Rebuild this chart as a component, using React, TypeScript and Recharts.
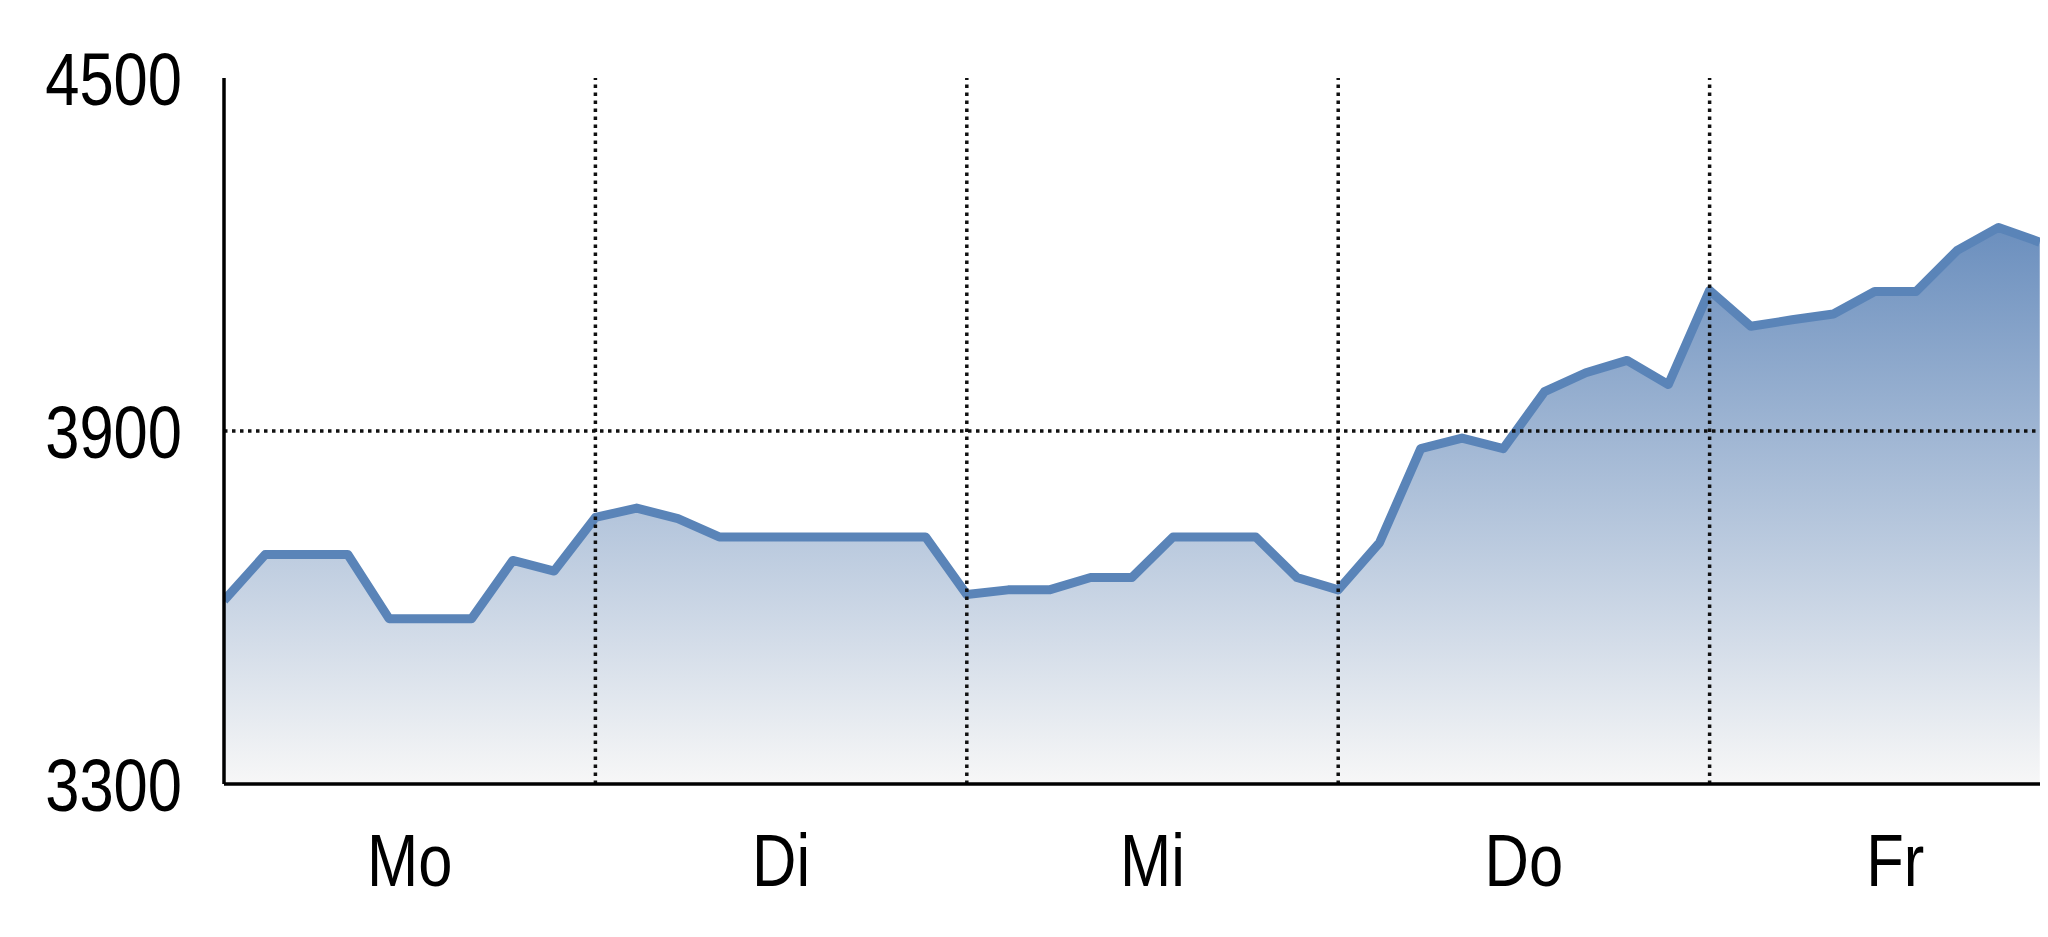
import React from 'react';
import { AreaChart, Area, XAxis, YAxis, ReferenceLine } from 'recharts';

// Values per step (9 steps per day)
const values: number[] = [
  3612, 3690, 3690, 3690, 3581, 3581, 3581, 3680, 3662,
  3753, 3769, 3751, 3720, 3720, 3720, 3720, 3720, 3720,
  3622, 3630, 3630, 3651, 3651, 3720, 3720, 3720, 3651,
  3630, 3710, 3870, 3888, 3870, 3967, 3999, 4020, 3979,
  4139, 4078, 4089, 4099, 4137, 4137, 4207, 4246, 4221,
];

const dayLabels: string[] = ['Mo', 'Di', 'Mi', 'Do', 'Fr'];
const dayLabelTicks: number[] = [4.5, 13.5, 22.5, 31.5, 40.5];
const dayBoundaries: number[] = [9, 18, 27, 36];
const yTicks: number[] = [3300, 3900, 4500];
const yGridValues: number[] = [3900];
const xDomainEnd = 44.2;

const data = values.map((v, i) => ({ t: i, v }));

const FONT = "'Liberation Sans', Arial, Helvetica, sans-serif";
const FONT_SIZE = 75;
const NARROW = 0.82;

function XTick(props: any) {
  const { x, y, payload } = props;
  const idx = dayLabelTicks.indexOf(payload.value);
  return (
    <g transform={`translate(${x},${y}) scale(${NARROW},1)`}>
      <text x={0} y={0} dy="0.71em" textAnchor="middle" fill="#000" fontSize={FONT_SIZE} fontFamily={FONT}>
        {dayLabels[idx] ?? ''}
      </text>
    </g>
  );
}

function YTick(props: any) {
  const { x, y, payload } = props;
  return (
    <g transform={`translate(${x},${y}) scale(${NARROW},1)`}>
      <text x={0} y={0} dy="0.355em" textAnchor="end" fill="#000" fontSize={FONT_SIZE} fontFamily={FONT}>
        {String(payload.value)}
      </text>
    </g>
  );
}

export default function App() {
  return (
    <div style={{ width: 2040 }}>
      <AreaChart
        width={2040}
        height={900}
        data={data}
        margin={{ top: 70, right: 0, bottom: 0, left: 0 }}
      >
        <defs>
          <linearGradient id="fillGrad" x1="0" y1="0" x2="0" y2="1">
            <stop offset="0%" stopColor="#6b8fbe" />
            <stop offset="100%" stopColor="#f7f7f7" />
          </linearGradient>
        </defs>
        <XAxis
          dataKey="t"
          type="number"
          domain={[0, xDomainEnd]}
          ticks={dayLabelTicks}
          tickLine={false}
          tickSize={0}
          tickMargin={49}
          height={124}
          axisLine={{ stroke: '#000', strokeWidth: 3.5 }}
          tick={<XTick />}
          interval={0}
          allowDataOverflow
        />
        <YAxis
          type="number"
          domain={[3300, 4500]}
          ticks={yTicks}
          width={216}
          tickLine={false}
          tickSize={0}
          tickMargin={42}
          axisLine={{ stroke: '#000', strokeWidth: 3.5 }}
          tick={<YTick />}
          interval={0}
          allowDataOverflow
        />
        <Area
          type="linear"
          dataKey="v"
          stroke="#5a84b8"
          strokeWidth={9}
          strokeLinejoin="round"
          fill="url(#fillGrad)"
          fillOpacity={1}
          baseValue={3300}
          isAnimationActive={false}
          dot={false}
          activeDot={false}
        />
        {yGridValues.map((y) => (
          <ReferenceLine key={'h' + y} y={y} stroke="#111" strokeWidth={3.5} strokeDasharray="3.5 4.5" />
        ))}
        {dayBoundaries.map((x) => (
          <ReferenceLine key={'v' + x} x={x} stroke="#111" strokeWidth={3.5} strokeDasharray="3.5 4.5" />
        ))}
      </AreaChart>
    </div>
  );
}
